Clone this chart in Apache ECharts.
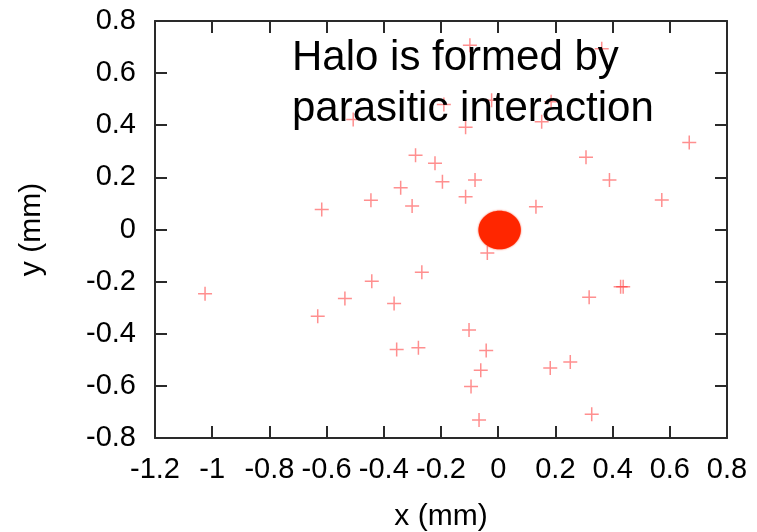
<!DOCTYPE html>
<html>
<head>
<meta charset="utf-8">
<script src="https://cdn.jsdelivr.net/npm/echarts@6/dist/echarts.min.js"></script>
<style>
  html, body { margin: 0; padding: 0; background: #fff; }
  #chart { width: 757px; height: 532px; }
</style>
</head>
<body>
<div id="chart"></div>
<script>
// Halo particles scattered around the beam core (x, y in mm)
const haloX = [
  -0.507, -0.289, -0.221, -0.195, -0.341, -0.445, -0.301, -0.617,
  -0.099, 0.362, -0.023, 0.185, 0.152, -0.114, 0.668, 0.307,
  0.389, -0.081, -0.114, 0.132, 0.572, -0.190,
  -0.038, 0.437, 0.428, 0.318, -0.102, -0.042, -0.061, -0.095,
  0.182, 0.252, -0.067, 0.327,
  -1.025, -0.631, -0.536, -0.442, -0.267, -0.364, -0.355, -0.279
];
const haloY = [
  0.422, 0.285, 0.254, 0.183, 0.160, 0.112, 0.090, 0.077,
  0.707, 0.694, 0.496, 0.490, 0.413, 0.392, 0.334, 0.277,
  0.190, 0.190, 0.126, 0.087, 0.113, 0.480,
  -0.090, -0.220, -0.220, -0.260, -0.386, -0.464, -0.540, -0.602,
  -0.531, -0.508, -0.731, -0.709,
  -0.247, -0.333, -0.265, -0.199, -0.164, -0.284, -0.460, -0.454
];

// Dense beam core: centre (mm) and radius (mm)
const coreX = [0.005];
const coreY = [-0.002];
const coreR = [0.074];

// Axis ranges and tick labels
const xTickLabels = ['-1.2', '-1', '-0.8', '-0.6', '-0.4', '-0.2', '0', '0.2', '0.4', '0.6', '0.8'];
const yTickLabels = ['-0.8', '-0.6', '-0.4', '-0.2', '0', '0.2', '0.4', '0.6', '0.8'];
const xMin = -1.2, xMax = 0.8, xStep = 0.2;
const yMin = -0.8, yMax = 0.8, yStep = 0.2;

const note = ['Halo is formed by', 'parasitic interaction'];

const haloData = haloX.map((x, i) => [x, haloY[i]]);
const coreData = coreX.map((x, i) => [x, coreY[i], coreR[i]]);

const sans = 'Liberation Sans, Arial, Helvetica, sans-serif';
const labelFont = { fontFamily: sans, fontSize: 29, color: '#000' };
const titleFont = { fontFamily: sans, fontSize: 30, color: '#000' };
const frameLine = { color: '#2a2a2a', width: 2 };

function tickText(list, min, step) {
  return v => {
    const idx = Math.round((v - min) / step);
    return list[idx] !== undefined ? list[idx] : '';
  };
}

function axisPair(kind) {
  const isX = kind === 'x';
  const min = isX ? xMin : yMin, max = isX ? xMax : yMax, step = isX ? xStep : yStep;
  const labels = isX ? xTickLabels : yTickLabels;
  const base = {
    type: 'value', min, max, interval: step,
    splitLine: { show: false },
    axisLine: { show: true, onZero: false, lineStyle: frameLine },
    axisTick: { show: true, inside: true, length: 12, lineStyle: frameLine }
  };
  return [
    Object.assign({}, base, {
      position: isX ? 'bottom' : 'left',
      name: isX ? 'x (mm)' : 'y (mm)',
      nameLocation: 'middle',
      nameGap: isX ? 64 : 108,
      nameRotate: isX ? 0 : 90,
      nameTextStyle: titleFont,
      axisLabel: Object.assign({}, labelFont, {
        margin: isX ? 17 : 19,
        showMinLabel: true, showMaxLabel: true,
        formatter: tickText(labels, min, step)
      })
    }),
    Object.assign({}, base, {
      position: isX ? 'top' : 'right',
      axisLabel: { show: false }
    })
  ];
}

const chart = echarts.init(document.getElementById('chart'), null, { renderer: 'canvas' });
chart.setOption({
  animation: false,
  backgroundColor: '#fff',
  grid: { left: 155, right: 30, top: 21, bottom: 94, containLabel: false, outerBoundsMode: 'none' },
  xAxis: axisPair('x'),
  yAxis: axisPair('y'),
  series: [
    {
      type: 'scatter',
      xAxisIndex: 0, yAxisIndex: 0,
      data: haloData,
      symbol: 'path://M5,0L5,10M0,5L10,5',
      symbolSize: 14,
      itemStyle: { color: 'transparent', borderColor: 'rgba(255,40,40,0.65)', borderWidth: 1.5 },
      z: 2
    },
    {
      type: 'custom',
      xAxisIndex: 0, yAxisIndex: 0,
      data: coreData,
      renderItem: (params, api) => {
        const x = api.value(0), y = api.value(1), r = api.value(2);
        const c = api.coord([x, y]);
        const rx = api.coord([x + r, y])[0] - c[0];
        const ry = c[1] - api.coord([x, y + r])[1];
        return {
          type: 'ellipse',
          shape: { cx: c[0], cy: c[1], rx: rx, ry: ry },
          style: { fill: '#ff2600', shadowBlur: 2, shadowColor: 'rgba(255,38,0,0.8)' }
        };
      },
      z: 3
    }
  ],
  graphic: [
    {
      type: 'text',
      left: 292, top: 33, z: 10,
      style: {
        text: note.join('\n'),
        fontFamily: sans,
        fontSize: 42,
        lineHeight: 51,
        fill: '#000'
      }
    }
  ]
});
</script>
</body>
</html>
